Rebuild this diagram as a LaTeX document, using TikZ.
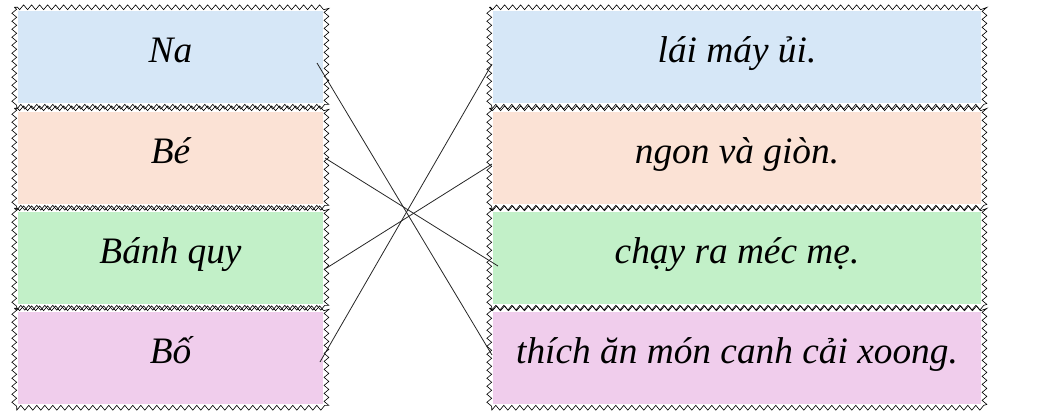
\documentclass[tikz,border=0pt]{standalone}
\usepackage{fontspec}
\setmainfont{Liberation Serif}
\usetikzlibrary{decorations.pathmorphing}
\definecolor{cblue}{RGB}{214,231,247}
\definecolor{cpeach}{RGB}{251,226,213}
\definecolor{cgreen}{RGB}{194,240,200}
\definecolor{cpurple}{RGB}{240,205,236}
\begin{document}
\begin{tikzpicture}[x=0.75pt,y=-0.75pt,
  cell/.style={inner sep=0pt,minimum height=69pt,text height=20pt,text depth=12.5pt,font=\fontsize{28}{32}\selectfont\itshape},
  lbox/.style={cell,minimum width=228.75pt},
  rbox/.style={cell,minimum width=366pt},
  zz/.style={draw=black,line width=0.45pt,decorate,decoration={zigzag,segment length=6pt,amplitude=1.8pt}},
  link/.style={draw=black!85,line width=0.6pt}]
\useasboundingbox (0,0) rectangle (1039,415);
% left column
\node[lbox,fill=cblue]   (na)  at (170.5,57)  {Na};
\node[lbox,fill=cpeach]  (be)  at (170.5,158) {Bé};
\node[lbox,fill=cgreen]  (bq)  at (170.5,258) {Bánh quy};
\node[lbox,fill=cpurple] (bo)  at (170.5,358) {Bố};
% right column
\node[rbox,fill=cblue]   (r1)  at (737,57)  {lái máy ủi.};
\node[rbox,fill=cpeach]  (r2)  at (737,158) {ngon và giòn.};
\node[rbox,fill=cgreen]  (r3)  at (737,258) {chạy ra méc mẹ.};
\node[rbox,fill=cpurple] (r4)  at (737,358) {thích ăn món canh cải xoong.};
% zigzag borders
\foreach \n in {na,be,bq,bo,r1,r2,r3,r4}{
  \draw[zz] ([xshift=-2.6pt,yshift=2.6pt]\n.north west) rectangle ([xshift=2.4pt,yshift=-2.6pt]\n.south east);
}
% link end points
\coordinate (pna) at (317,63);
\coordinate (pbe) at (325,158);
\coordinate (pbq) at (325,269);
\coordinate (pbo) at (320,362);
\coordinate (pr1) at (492,64);
\coordinate (pr2) at (492,164);
\coordinate (pr3) at (498,266);
\coordinate (pr4) at (492,355);
\draw[link] (pna) -- (pr4);
\draw[link] (pbe) -- (pr3);
\draw[link] (pbq) -- (pr2);
\draw[link] (pbo) -- (pr1);
\end{tikzpicture}
\end{document}
